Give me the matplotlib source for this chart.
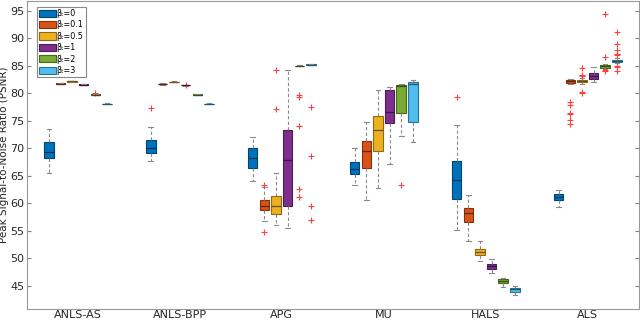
import numpy as np
import matplotlib.pyplot as plt
from matplotlib.patches import Patch

methods = ['ANLS-AS', 'ANLS-BPP', 'APG', 'MU', 'HALS', 'ALS']
beta_labels = ['β\u209c=0', 'β\u209c=0.1', 'β\u209c=0.5',
               'β\u209c=1', 'β\u209c=2', 'β\u209c=3']
colors = ['#0072BD', '#D95319', '#EDB120', '#7E2F8E', '#77AC30', '#4DBEEE']

# box statistics: (whislo, q1, med, q3, whishi)
anls_as = [(65.6, 68.3, 69.3, 71.1, 73.45),
           (81.7, 81.75, 81.8, 81.85, 81.9),
           (82.1, 82.15, 82.2, 82.25, 82.3),
           (81.5, 81.55, 81.6, 81.65, 81.7),
           (79.7, 79.75, 79.8, 79.85, 79.9),
           (78.0, 78.05, 78.1, 78.15, 78.2)]
anls_bpp = [(67.7, 69.1, 70.1, 71.5, 73.9),
            (81.6, 81.7, 81.75, 81.8, 81.9),
            (82.0, 82.05, 82.1, 82.15, 82.2),
            (81.4, 81.45, 81.5, 81.55, 81.6),
            (79.7, 79.75, 79.8, 79.85, 79.9),
            (78.0, 78.05, 78.1, 78.15, 78.2)]
apg = [(64.1, 66.5, 68.2, 70.0, 72.1),
       (56.8, 58.9, 59.5, 60.6, 63.0),
       (56.0, 58.0, 59.55, 61.3, 65.45),
       (55.5, 59.5, 67.85, 73.4, 84.3),
       (84.9, 84.95, 85.0, 85.05, 85.1),
       (85.15, 85.2, 85.25, 85.3, 85.35)]
mu = [(63.4, 65.4, 66.2, 67.5, 70.1),
      (60.6, 66.5, 69.6, 71.3, 74.8),
      (62.85, 69.6, 73.3, 75.85, 80.6),
      (67.1, 74.65, 76.7, 80.7, 81.1),
      (72.3, 76.45, 81.4, 81.45, 81.8),
      (71.1, 74.8, 81.8, 82.05, 82.35)]
hals = [(55.2, 60.8, 64.2, 67.7, 74.2),
        (53.2, 56.7, 58.2, 59.1, 61.6),
        (49.6, 50.6, 51.1, 51.7, 53.1),
        (47.3, 48.1, 48.6, 48.95, 49.9),
        (44.8, 45.5, 45.9, 46.2, 46.4),
        (43.3, 43.95, 44.4, 44.7, 45.0)]
als = [(59.3, 60.6, 61.2, 61.7, 62.4),
       (81.75, 81.9, 82.2, 82.4, 82.7),
       (81.75, 82.0, 82.2, 82.4, 82.8),
       (82.1, 82.65, 83.2, 83.75, 84.8),
       (84.4, 84.7, 84.95, 85.2, 85.4),
       (85.5, 85.7, 85.9, 86.1, 86.4)]

# outliers per method, per beta
anls_as_out = [[], [], [], [], [80.0], []]
anls_bpp_out = [[77.4], [], [], [81.6], [], []]
apg_out = [[], [63.4, 54.9], [84.2, 77.1], [],
           [79.8, 79.35, 74.1, 62.7, 61.2], [77.6, 68.6, 59.6, 57.0]]
mu_out = [[], [], [], [], [63.4], []]
hals_out = [[79.4], [], [], [], [], []]
als_out = [[], [78.4, 77.9, 76.4, 76.2, 75.1, 74.5],
           [84.7, 83.4, 83.1, 80.2, 80.0], [],
           [94.4, 86.6, 84.2, 84.0],
           [91.1, 89.0, 87.8, 87.1, 86.9, 85.0, 84.8, 84.0]]

all_stats = [anls_as, anls_bpp, apg, mu, hals, als]
all_out = [anls_as_out, anls_bpp_out, apg_out, mu_out, hals_out, als_out]


def darker(hexcol, f=0.7):
    rgb = np.array([int(hexcol[i:i + 2], 16) for i in (1, 3, 5)]) / 255.0
    return tuple(rgb * f)


fig = plt.figure(figsize=(6.4, 3.23), dpi=100)
ax = fig.add_axes([0.042, 0.043, 0.956, 0.954])

spacing = 0.114
for g, (stats, outs) in enumerate(zip(all_stats, all_out)):
    for k in range(6):
        lo, q1, med, q3, hi = stats[k]
        st = [dict(whislo=lo, q1=q1, med=med, q3=q3, whishi=hi, fliers=outs[k])]
        pos = g + 1 + (k - 2.5) * spacing
        ax.bxp(st, positions=[pos], widths=0.093, capwidths=0.045,
               patch_artist=True, showfliers=True,
               boxprops=dict(facecolor=colors[k], edgecolor=darker(colors[k], 0.6), linewidth=0.8),
               medianprops=dict(color=darker(colors[k], 0.45), linewidth=0.9),
               whiskerprops=dict(color='#8a8a8a', linestyle=(0, (3, 2)), linewidth=0.8),
               capprops=dict(color='#8a8a8a', linewidth=0.8),
               flierprops=dict(marker='+', markeredgecolor='#ff4040', markersize=4,
                               markeredgewidth=0.8, linestyle='none'))

ax.set_xlim(0.5, 6.5)
ax.set_ylim(40.8, 96.8)
ax.set_yticks(np.arange(45, 96, 5))
ax.set_xticks(range(1, 7))
ax.set_xticklabels(methods)
ax.tick_params(axis='both', direction='in', labelsize=8, colors='#262626', length=3)
ax.tick_params(axis='y', right=True, color='#808080', pad=2)
ax.tick_params(axis='x', length=0, pad=1)
for s in ax.spines.values():
    s.set_color('#999999')
    s.set_linewidth(0.8)
ax.set_ylabel('Peak Signal-to-Noise Ratio (PSNR)', fontsize=7.5, color='#262626', labelpad=1)

handles = [Patch(facecolor=c, edgecolor=darker(c, 0.6), linewidth=0.8) for c in colors]
leg = ax.legend(handles, beta_labels, loc='upper left', bbox_to_anchor=(0.016, 0.982),
                fontsize=5.8, handlelength=2.1, handleheight=1.0, handletextpad=0.05,
                labelspacing=0.3, borderpad=0.3, borderaxespad=0.0,
                fancybox=False, framealpha=1)
leg.get_frame().set_edgecolor('#888888')
leg.get_frame().set_linewidth(0.8)

fig.savefig('out.png', dpi=100)
